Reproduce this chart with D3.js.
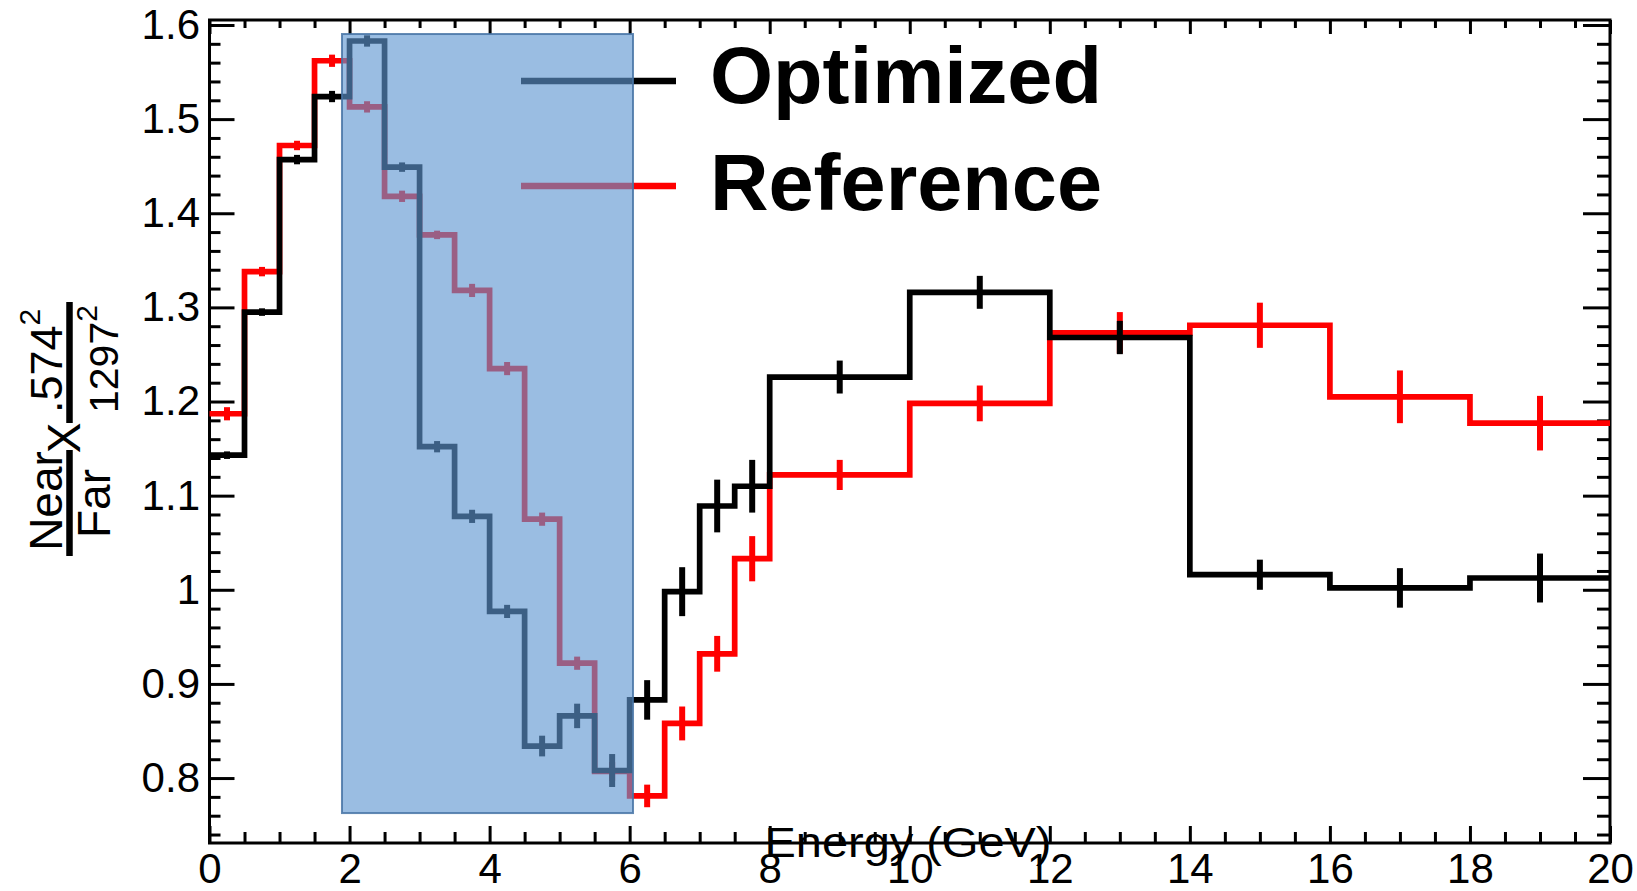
<!DOCTYPE html>
<html>
<head>
<meta charset="utf-8">
<script src="https://cdn.jsdelivr.net/npm/d3@7"></script>
<style>
  html, body { margin: 0; padding: 0; background: #ffffff; }
  svg { display: block; }
  text { font-family: "Liberation Sans", Arial, sans-serif; fill: #000; }
</style>
</head>
<body>
<svg id="chart" width="1637" height="891"></svg>
<script>
// ---------- data ----------
const binEdges = [0, 0.5, 1, 1.5, 2, 2.5, 3, 3.5, 4, 4.5, 5, 5.5, 6, 6.5, 7, 7.5, 8, 10, 12, 14, 16, 18, 20];
const optimizedValues = [1.143, 1.295, 1.457, 1.524, 1.583, 1.449, 1.152, 1.078, 0.977, 0.834, 0.866, 0.808,
                         0.883, 0.998, 1.089, 1.110, 1.226, 1.316, 1.268, 1.016, 1.002, 1.0125];
const optimizedErrors = [0.004, 0.004, 0.005, 0.006, 0.006, 0.005, 0.006, 0.007, 0.007, 0.011, 0.013, 0.0175,
                         0.021, 0.026, 0.028, 0.028, 0.0175, 0.0175, 0.0177, 0.016, 0.021, 0.026];
const referenceValues = [1.187, 1.338, 1.472, 1.562, 1.513, 1.418, 1.377, 1.318, 1.235, 1.075, 0.922, 0.807,
                         0.781, 0.858, 0.932, 1.033, 1.122, 1.198, 1.273, 1.281, 1.205, 1.177];
const referenceErrors = [0.007, 0.005, 0.005, 0.0065, 0.006, 0.006, 0.0045, 0.007, 0.007, 0.007, 0.007, 0.01,
                         0.012, 0.018, 0.019, 0.024, 0.016, 0.019, 0.022, 0.024, 0.028, 0.029];
const seriesNames = ["Optimized", "Reference"];
const seriesColors = ["#000000", "#ff0000"];
const xMajorTicks = [0, 2, 4, 6, 8, 10, 12, 14, 16, 18, 20];
const yMajorTicks = [0.8, 0.9, 1.0, 1.1, 1.2, 1.3, 1.4, 1.5, 1.6];
const xTitle = "Energy (GeV)";
// highlighted region (data coordinates): [x0, x1, y0, y1]
const highlightBox = [1.892, 6.048, 0.7628, 1.5904];

// ---------- layout ----------
const svg = d3.select("#chart");
const pLeft = 209.5, pRight = 1610, pTop = 20, pBottom = 843;
const x = d3.scaleLinear().domain([0, 20]).range([pLeft, pRight]);
const y = d3.scaleLinear().domain([0.731, 1.6053]).range([pBottom, pTop]);

const xMinor = d3.range(0, 20.001, 0.5).filter(v => Math.abs(v / 2 - Math.round(v / 2)) > 1e-6);
const yMinor = d3.range(0.74, 1.6001, 0.02).map(v => +v.toFixed(2))
  .filter(v => Math.abs(v * 10 - Math.round(v * 10)) > 1e-6);

const fmtY = d => String(+d.toFixed(1));

// ---------- axes ----------
function styleAxis(g) {
  g.select(".domain").remove();
  g.selectAll(".tick line").attr("stroke", "#000").attr("stroke-width", 3);
  g.selectAll(".tick text").style("font-family", '"Liberation Sans", Arial, sans-serif')
    .style("font-size", "42px").attr("fill", "#000");
}

svg.append("g").attr("transform", `translate(${pLeft},0)`)
  .call(d3.axisLeft(y).tickValues(yMajorTicks).tickSize(-25).tickPadding(9.5).tickFormat(fmtY))
  .call(styleAxis);
svg.append("g").attr("transform", `translate(${pLeft},0)`)
  .call(d3.axisLeft(y).tickValues(yMinor).tickSize(-11).tickFormat(""))
  .call(styleAxis);
svg.append("g").attr("transform", `translate(${pRight},0)`)
  .call(d3.axisRight(y).tickValues(yMajorTicks).tickSize(-27).tickFormat(""))
  .call(styleAxis);
svg.append("g").attr("transform", `translate(${pRight},0)`)
  .call(d3.axisRight(y).tickValues(yMinor).tickSize(-13).tickFormat(""))
  .call(styleAxis);
svg.append("g").attr("transform", `translate(0,${pBottom})`)
  .call(d3.axisBottom(x).tickValues(xMajorTicks).tickSize(-17).tickPadding(10).tickFormat(d3.format("d")))
  .call(styleAxis);
svg.append("g").attr("transform", `translate(0,${pBottom})`)
  .call(d3.axisBottom(x).tickValues(xMinor).tickSize(-11).tickFormat(""))
  .call(styleAxis);
svg.append("g").attr("transform", `translate(0,${pTop})`)
  .call(d3.axisTop(x).tickValues(xMajorTicks).tickSize(-14).tickFormat(""))
  .call(styleAxis);
svg.append("g").attr("transform", `translate(0,${pTop})`)
  .call(d3.axisTop(x).tickValues(xMinor).tickSize(-8).tickFormat(""))
  .call(styleAxis);

svg.append("rect").attr("x", pLeft).attr("y", pTop)
  .attr("width", pRight - pLeft).attr("height", pBottom - pTop)
  .attr("fill", "none").attr("stroke", "#000").attr("stroke-width", 3);

// ---------- histograms ----------
const stepLine = d3.line().x(d => x(d[0])).y(d => y(d[1])).curve(d3.curveStepAfter);
function drawHist(values, errors, color) {
  const pts = values.map((v, i) => [binEdges[i], v]);
  pts.push([binEdges[binEdges.length - 1], values[values.length - 1]]);
  svg.append("path").datum(pts).attr("d", stepLine)
    .attr("fill", "none").attr("stroke", color).attr("stroke-width", 5.7)
    .attr("stroke-linejoin", "miter").attr("stroke-linecap", "butt");
  svg.append("g").selectAll("line").data(values).join("line")
    .attr("x1", (v, i) => x((binEdges[i] + binEdges[i + 1]) / 2))
    .attr("x2", (v, i) => x((binEdges[i] + binEdges[i + 1]) / 2))
    .attr("y1", (v, i) => y(v - errors[i]))
    .attr("y2", (v, i) => y(v + errors[i]))
    .attr("stroke", color).attr("stroke-width", 6);
}
drawHist(referenceValues, referenceErrors, seriesColors[1]);
drawHist(optimizedValues, optimizedErrors, seriesColors[0]);

// ---------- legend ----------
const legendRows = [{ name: seriesNames[0], color: seriesColors[0], ly: 81, ty: 103 },
                    { name: seriesNames[1], color: seriesColors[1], ly: 186, ty: 210 }];
const lg = svg.append("g");
legendRows.forEach(r => {
  lg.append("line").attr("x1", 521).attr("x2", 676).attr("y1", r.ly).attr("y2", r.ly)
    .attr("stroke", r.color).attr("stroke-width", 6.5);
  lg.append("text").attr("x", 710).attr("y", r.ty)
    .attr("textLength", 392).attr("lengthAdjust", "spacingAndGlyphs")
    .style("font-size", "80px").style("font-weight", "bold").text(r.name);
});

// ---------- axis titles ----------
svg.append("text").attr("x", 908).attr("y", 857).attr("text-anchor", "middle")
  .attr("textLength", 287).attr("lengthAdjust", "spacingAndGlyphs")
  .style("font-size", "43px").text(xTitle);

const yt = svg.append("g").attr("transform", "rotate(-90)");
yt.append("text").attr("x", -501).attr("y", 62).attr("text-anchor", "middle").style("font-size", "46px").text("Near");
yt.append("text").attr("x", -503.5).attr("y", 110).attr("text-anchor", "middle").style("font-size", "46px").text("Far");
yt.append("line").attr("x1", -450).attr("x2", -556).attr("y1", 69.5).attr("y2", 69.5)
  .attr("stroke", "#000").attr("stroke-width", 6.5);
yt.append("text").attr("x", -438).attr("y", 80).attr("text-anchor", "middle").style("font-size", "46px").text("X");
const num = yt.append("text").attr("x", -413).attr("y", 62).style("font-size", "45px");
num.append("tspan").text(".574");
num.append("tspan").attr("dy", -22).style("font-size", "30px").text("2");
const den = yt.append("text").attr("x", -413).attr("y", 118).style("font-size", "41px");
den.append("tspan").text("1297");
den.append("tspan").attr("dy", -21).style("font-size", "30px").text("2");
yt.append("line").attr("x1", -302).attr("x2", -423).attr("y1", 69.5).attr("y2", 69.5)
  .attr("stroke", "#000").attr("stroke-width", 6.5);

// ---------- highlight box (drawn on top) ----------
svg.append("rect")
  .attr("x", x(highlightBox[0])).attr("y", y(highlightBox[3]))
  .attr("width", x(highlightBox[1]) - x(highlightBox[0]))
  .attr("height", y(highlightBox[2]) - y(highlightBox[3]))
  .attr("fill", "rgb(95,151,209)").attr("fill-opacity", 0.63)
  .attr("stroke", "rgb(70,115,165)").attr("stroke-opacity", 0.85).attr("stroke-width", 2);
</script>
</body>
</html>
